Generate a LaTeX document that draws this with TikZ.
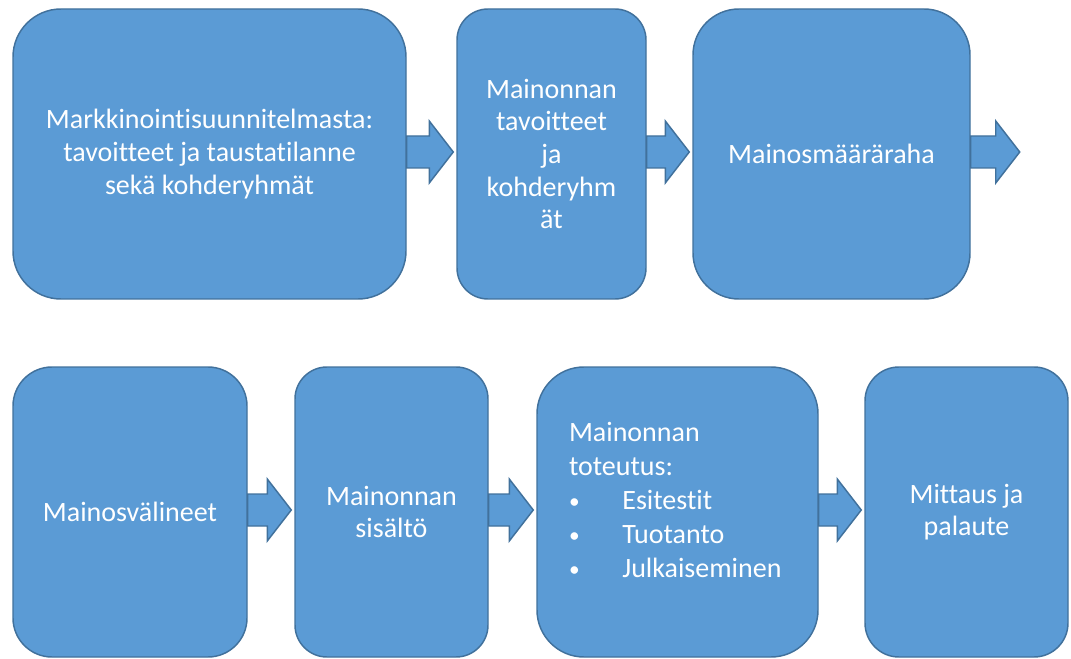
\documentclass[tikz,border=0pt]{standalone}
\usepackage{fontspec}
\setmainfont{Carlito}[Ligatures=NoCommon]
\begin{document}
\begin{tikzpicture}[x=0.75pt,y=-0.75pt,
  card/.style n args={3}{draw=boxline, fill=boxfill, line width=1.1pt,
    text=white, align=center, inner sep=0pt,
    minimum width=#1*0.75pt, minimum height=#2*0.75pt,
    rounded corners=#3*0.75pt,
    font=\fontsize{21}{24.5}\selectfont},
  flowarrow/.style={draw=boxline, fill=boxfill, line width=1.1pt, line join=miter}]
\definecolor{boxfill}{HTML}{5B9BD5}
\definecolor{boxline}{HTML}{41719C}
\useasboundingbox (0,0) rectangle (1071,659);

% block arrow from one box edge to the next
\newcommand{\blockarrow}[2]{%
  \draw[flowarrow] ([shift={(0,-18)}]#1) -- ([shift={(-27,-18)}]#2)
    -- ([shift={(-27,-33)}]#2) -- ([shift={(-3,-2)}]#2)
    -- ([shift={(-27,29)}]#2) -- ([shift={(-27,14)}]#2)
    -- ([shift={(0,14)}]#1) -- cycle;}
% list bullet
\newcommand{\itemdot}{\makebox[40pt][l]{\raisebox{1.2pt}{\fontsize{16}{16}\selectfont•}}}

% top row
\node[card={393}{290}{48}] (b1) at (209.5,154)
  {Markkinointisuunnitelmasta:\\tavoitteet ja taustatilanne\\sekä kohderyhmät};
\node[card={189}{290}{31}] (b2) at (551.5,154)
  {Mainonnan\\tavoitteet\\ja\\kohderyhm\\ät};
\node[card={277}{290}{46}] (b3) at (831.5,154) {Mainosmääräraha};
\coordinate (tail) at ([shift={(52,0)}]b3.east);

% bottom row
\node[card={234}{290}{39}] (b4) at (130,512) {Mainosvälineet};
\node[card={193}{290}{32}] (b5) at (391.5,512) {Mainonnan\\sisältö};
\node[card={281}{290}{47}, align=left, text width=217*0.75pt, inner xsep=32*0.75pt,
      font=\fontsize{21}{25.5}\selectfont] (b6) at (677.5,512)
  {Mainonnan\\toteutus:\\
   \itemdot Esitestit\\
   \itemdot Tuotanto\\
   \itemdot Julkaiseminen\rule[-18pt]{0pt}{18pt}};
\node[card={203}{290}{34}] (b7) at (966.5,512) {Mittaus ja\\palaute};

% connectors
\blockarrow{b1.east}{b2.west}
\blockarrow{b2.east}{b3.west}
\blockarrow{b3.east}{tail}
\blockarrow{b4.east}{b5.west}
\blockarrow{b5.east}{b6.west}
\blockarrow{b6.east}{b7.west}
\end{tikzpicture}
\end{document}
